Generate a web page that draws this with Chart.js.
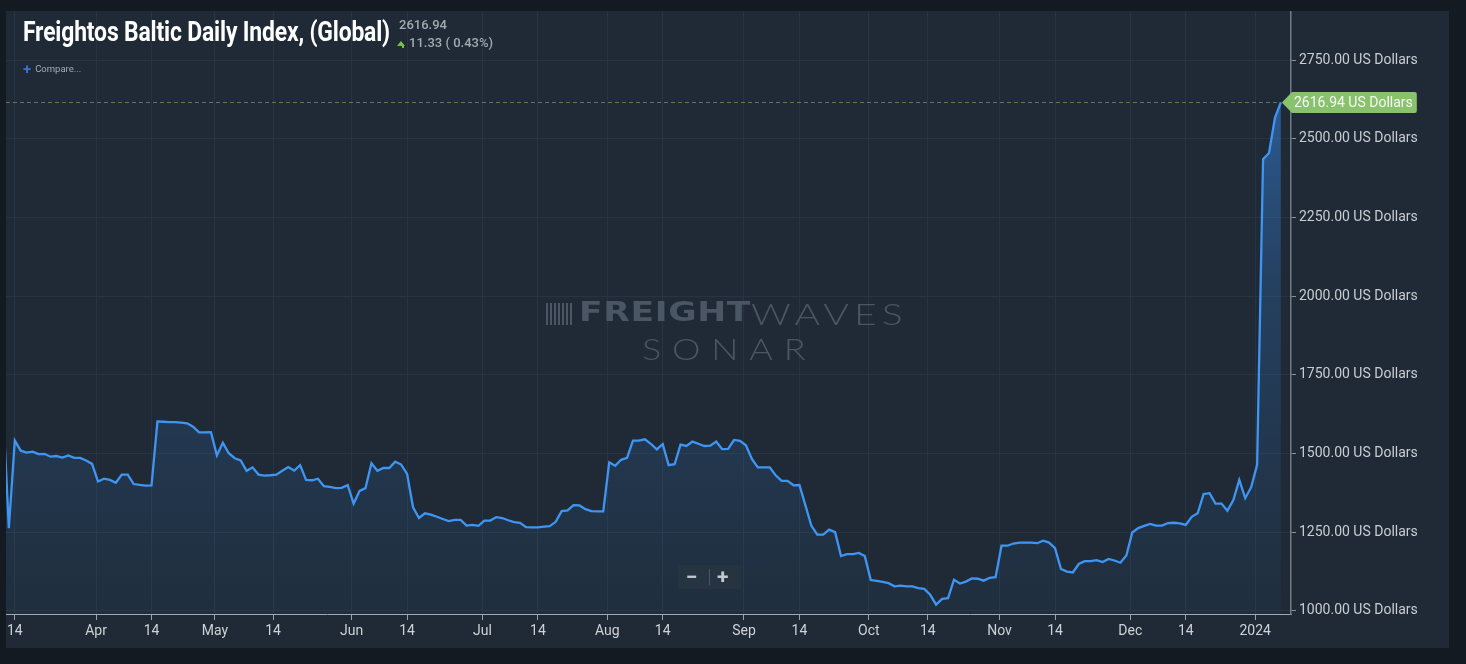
<!DOCTYPE html>
<html><head><meta charset="utf-8">
<script src="https://cdn.jsdelivr.net/npm/chart.js@4.4.1/dist/chart.umd.min.js"></script>
<style>
html,body{margin:0;padding:0;background:#141a21;overflow:hidden}
#wrap{position:relative;width:1466px;height:664px}
#c{position:absolute;left:0;top:0}
.ov{position:absolute;white-space:nowrap;font-family:Roboto,"Noto Sans",sans-serif;pointer-events:none}
#title{left:23px;top:16px;font-size:27px;font-weight:700;color:#ffffff;transform-origin:0 0;letter-spacing:-0.2px}
#last{left:399px;top:17px;font-size:13px;font-weight:500;color:#a3a9b0}
#chg{left:397px;top:35px;font-size:13px;font-weight:500;color:#a3a9b0}
#chg .arr{display:inline-block;width:0;height:0;border-left:4px solid transparent;border-right:4px solid transparent;border-bottom:5px solid #7cc241;margin-right:4px;vertical-align:1px}
#chg .st{display:inline-block;width:2px;height:3px;background:#7cc241;margin-left:-7px;margin-right:5px;vertical-align:-1px}
#cmp{left:23px;top:60px;font-size:9.5px;color:#a4abb3}
#cmp b{color:#3d6fd8;font-size:15px;font-weight:700;margin-right:4px;vertical-align:-2px}
#wm1{left:546px;top:298px;height:30px;color:#4a5663}
#wm1 .bars{position:absolute;left:0;top:5px;width:26px;height:22px;background:repeating-linear-gradient(90deg,#4a5663 0 2px,transparent 2px 4px)}
#wm1 .fr{position:absolute;left:33px;top:-2px;font-family:"DejaVu Sans",sans-serif;font-weight:700;font-size:27px;transform:scaleX(1.28);transform-origin:0 0;letter-spacing:0.5px}
#wm1 .wv{position:absolute;left:205px;top:-3px;font-family:Lato,"DejaVu Sans",sans-serif;font-weight:300;font-size:30px;letter-spacing:4px;transform:scaleX(1.3);transform-origin:0 0}
#wm2{left:642px;top:330px;font-family:Lato,"DejaVu Sans",sans-serif;font-weight:300;font-size:30px;letter-spacing:9px;color:#4a5663;transform:scaleX(1.2);transform-origin:0 0}
#zoomc{left:678px;top:565px;width:63px;height:24px;background:#263442;border-radius:3px;color:#c3c8ce}
#zoomc .m{position:absolute;left:8px;top:0px;font-size:21px;font-weight:700}
#zoomc .p{position:absolute;left:39px;top:0px;font-size:21px;font-weight:700}
#zoomc .s{position:absolute;left:31px;top:4px;width:1px;height:16px;background:#4a5663}
</style></head>
<body>
<div id="wrap">
<canvas id="c" width="1466" height="664"></canvas>
<div class="ov" id="title">Freightos Baltic Daily Index, (Global)</div>
<div class="ov" id="last">2616.94</div>
<div class="ov" id="chg"><span class="arr"></span><span class="st"></span>11.33 ( 0.43%)</div>
<div class="ov" id="cmp"><b>+</b>Compare...</div>
<div class="ov" id="wm1"><div class="bars"></div><span class="fr">FREIGHT</span><span class="wv">WAVES</span></div>
<div class="ov" id="wm2">SONAR</div>
<div class="ov" id="zoomc"><span class="m">−</span><span class="s"></span><span class="p">+</span></div>
</div>
<script>
// ---- data ----
// business days from 2023-03-10 to 2024-01-05 (index 0 = 2023-03-10)
const startDate = '2023-03-10';
const values = [
  1650,1263,1541,1509,1503,1506,1498,1499,1490,1492,
  1487,1494,1486,1486,1478,1467,1411,1420,1416,1407,
  1433,1433,1403,1400,1398,1399,1602,1601,1600,1600,
  1598,1596,1585,1567,1567,1568,1494,1534,1501,1485,
  1478,1445,1456,1433,1430,1431,1433,1445,1457,1446,
  1463,1416,1415,1420,1396,1394,1390,1391,1400,1341,
  1381,1390,1469,1445,1454,1454,1474,1465,1435,1329,
  1295,1310,1306,1299,1292,1285,1289,1289,1271,1273,
  1270,1287,1287,1298,1295,1288,1282,1280,1266,1265,
  1265,1268,1269,1283,1317,1319,1336,1335,1323,1317,
  1316,1316,1472,1461,1480,1486,1541,1541,1545,1531,
  1513,1530,1463,1466,1528,1524,1538,1531,1524,1525,
  1538,1514,1515,1543,1540,1526,1483,1456,1456,1456,
  1431,1413,1413,1399,1400,1336,1271,1242,1242,1258,
  1250,1174,1180,1180,1184,1174,1098,1095,1092,1088,
  1078,1080,1078,1078,1072,1070,1051,1020,1038,1040,
  1099,1087,1093,1103,1102,1096,1105,1107,1207,1207,
  1214,1217,1217,1217,1215,1223,1217,1199,1133,1125,
  1122,1149,1158,1158,1161,1155,1165,1160,1153,1176,
  1249,1263,1270,1276,1271,1271,1279,1280,1278,1273,
  1299,1310,1371,1374,1341,1341,1318,1352,1416,1358,
  1393,1464,2435,2455,2567,2616.94
];
// x-axis ticks (business-day index positions) and their labels
const xTickPos = [2,15.67,25,35.67,45.45,58.67,68,80.67,90,101.67,111,124.67,134,145.67,155.6,167.67,177,189.67,199,210.67];
const xTickLabels = ['14','Apr','14','May','14','Jun','14','Jul','14','Aug','14','Sep','14','Oct','14','Nov','14','Dec','14','2024'];
const yTicks = [1000,1250,1500,1750,2000,2250,2500,2750];
const seriesName = 'Freightos Baltic Daily Index, (Global)';

// business-day labels
const dates = [];
(function(){
  const d = new Date(startDate + 'T00:00:00Z');
  while (dates.length < values.length) {
    const wd = d.getUTCDay();
    if (wd !== 0 && wd !== 6) dates.push(d.toISOString().slice(0,10));
    d.setUTCDate(d.getUTCDate() + 1);
  }
})();
const points = values.map((v,i)=>({x:i, y:v}));

const FONT = 'Roboto, "Noto Sans", sans-serif';

const bgPlugin = {
  id:'bg',
  beforeDraw(chart){
    const c = chart.ctx; c.save();
    c.fillStyle = '#141a21'; c.fillRect(0,0,chart.width,chart.height);
    c.fillStyle = '#1f2a36'; c.fillRect(6,11,1443,637);
    c.restore();
  }
};
const lastPlugin = {
  id:'lastval',
  afterDraw(chart){
    const c = chart.ctx, xs = chart.scales.x, ys = chart.scales.y, ca = chart.chartArea;
    const lv = values[values.length-1];
    const y = Math.round(ys.getPixelForValue(lv)) + 0.5;
    const xl = xs.getPixelForValue(points.length-1);
    c.save();
    c.strokeStyle = '#5b7a58'; c.lineWidth = 1; c.setLineDash([4,3]);
    c.beginPath(); c.moveTo(ca.left, y); c.lineTo(xl, y); c.stroke();
    c.setLineDash([]);
    const txt = lv.toFixed(2) + ' US Dollars';
    c.font = '14px ' + FONT;
    const tw = c.measureText(txt).width;
    const bx = ca.right + 1, h = 21, r = 2, tip = xl + 1;
    const bw = tw + 6;
    c.fillStyle = '#88c26c';
    c.beginPath();
    c.moveTo(tip, y);
    c.lineTo(bx, y - h/2);
    c.lineTo(bx + bw - r, y - h/2);
    c.quadraticCurveTo(bx + bw, y - h/2, bx + bw, y - h/2 + r);
    c.lineTo(bx + bw, y + h/2 - r);
    c.quadraticCurveTo(bx + bw, y + h/2, bx + bw - r, y + h/2);
    c.lineTo(bx, y + h/2);
    c.closePath(); c.fill();
    c.fillStyle = '#f6f9f3'; c.textBaseline = 'middle'; c.textAlign = 'left';
    c.fillText(txt, bx + 2, y + 0.5);
    c.restore();
  }
};

new Chart(document.getElementById('c'), {
  type:'line',
  data:{ datasets:[{
    label: seriesName,
    data: points,
    borderColor:'#3f96f2',
    borderWidth:2.3,
    pointRadius:0,
    tension:0,
    fill:'start',
    backgroundColor:(ctx)=>{
      const ch = ctx.chart, ca = ch.chartArea;
      if(!ca) return 'rgba(56,132,220,0.2)';
      const g = ch.ctx.createLinearGradient(0, ca.top, 0, ca.bottom);
      g.addColorStop(0,'rgba(55,135,230,0.66)');
      g.addColorStop(0.45,'rgba(55,135,230,0.24)');
      g.addColorStop(1,'rgba(55,135,230,0.04)');
      return g;
    }
  }]},
  options:{
    responsive:false,
    animation:false,
    events:[],
    layout:{padding:{left:6, top:11, right:17, bottom:16}},
    plugins:{legend:{display:false}, tooltip:{enabled:false}},
    scales:{
      x:{
        type:'linear', min:0.52, max:216.7,
        afterBuildTicks:(s)=>{ s.ticks = xTickPos.map(v=>({value:v})); },
        afterFit:(s)=>{ s.height = 34; },
        ticks:{ autoSkip:false, maxRotation:0, padding:3, color:'#ced2d6',
          font:{family:FONT, size:14},
          callback:(v,i)=>xTickLabels[i] },
        grid:{ color:'#273442', lineWidth:1, drawTicks:true, tickLength:6, tickColor:'#9aa0a7' },
        border:{ display:true, color:'#a3a8ae', width:1 }
      },
      y:{
        type:'linear', position:'right', min:990, max:2905,
        afterBuildTicks:(s)=>{ s.ticks = yTicks.map(v=>({value:v})); },
        afterFit:(s)=>{ s.width = 158; },
        ticks:{ padding:3, color:'#c9cdd2', font:{family:FONT, size:14},
          callback:(v)=>Number(v).toFixed(2)+' US Dollars' },
        grid:{ color:'#273442', lineWidth:1, drawTicks:true, tickLength:5, tickColor:'#8a9098' },
        border:{ display:true, color:'#737a82', width:1.5 }
      }
    }
  },
  plugins:[bgPlugin, lastPlugin]
});

// fit title width to reference (condensed look)
(function(){
  const t = document.getElementById('title');
  const w = t.getBoundingClientRect().width;
  t.style.transform = 'scaleX(' + (367 / w) + ')';
})();
</script>
</body></html>
